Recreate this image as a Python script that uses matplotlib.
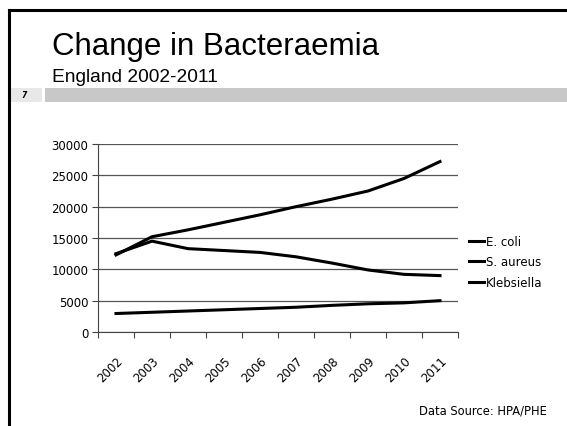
import matplotlib.pyplot as plt
from matplotlib.lines import Line2D
from matplotlib.patches import Rectangle

# data
years = ['2002', '2003', '2004', '2005', '2006', '2007', '2008', '2009', '2010', '2011']
e_coli = [12300, 15200, 16300, 17500, 18700, 20000, 21200, 22500, 24500, 27200]
s_aureus = [12500, 14500, 13300, 13000, 12700, 12000, 11000, 9900, 9200, 9000]
klebsiella = [2950, 3150, 3350, 3550, 3750, 3950, 4250, 4500, 4650, 5000]

W, H = 567, 427
fig = plt.figure(figsize=(W / 100, H / 100), dpi=100)

# slide frame (left and top black rules)
fig.add_artist(Line2D([9 / W, 9 / W], [0, 1 - 11 / H], color='black', lw=2.2))
fig.add_artist(Line2D([9 / W, 1], [1 - 11 / H, 1 - 11 / H], color='black', lw=2.2))

# grey band with slide number
fig.add_artist(Rectangle((10 / W, 1 - 103 / H), 32 / W, 14 / H, color='#e8e8e8', lw=0))
fig.add_artist(Rectangle((45 / W, 1 - 103 / H), (W - 45) / W, 14 / H, color='#c8c8c8', lw=0))
fig.text(24 / W, 1 - 96 / H, '7', fontsize=5.5, fontweight='bold', style='italic',
         ha='center', va='center')

fig.text(52 / W, 1 - 55 / H, 'Change in Bacteraemia', fontsize=22.5,
         family='Liberation Sans', ha='left', va='baseline')
fig.text(52 / W, 1 - 82 / H, 'England 2002-2011', fontsize=13.8,
         family='Liberation Sans', ha='left', va='baseline')
fig.text(547 / W, 1 - 411 / H, 'Data Source: HPA/PHE', fontsize=8.3,
         ha='right', va='center')

ax = fig.add_axes([98 / W, 1 - 333 / H, 360 / W, 188 / H])
x = list(range(len(years)))
ax.plot(x, e_coli, color='black', lw=2.2, label='E. coli')
ax.plot(x, s_aureus, color='black', lw=2.2, label='S. aureus')
ax.plot(x, klebsiella, color='black', lw=2.2, label='Klebsiella')

ax.set_xlim(-0.5, len(years) - 0.5)
ax.set_ylim(0, 30000)
ax.set_yticks(range(0, 30001, 5000))
ax.set_xticks([i - 0.5 for i in range(len(years) + 1)])
ax.set_xticklabels([])
ax.set_xticks(x, minor=True)
ax.set_xticklabels(years, minor=True, rotation=45, ha='right', rotation_mode='anchor')
ax.tick_params(axis='x', which='minor', length=0, pad=16, labelsize=8.5)
ax.tick_params(axis='x', which='major', length=4, color='#444444', direction='out')
ax.tick_params(axis='y', length=4, color='#444444', labelsize=8.5, pad=3)
ax.yaxis.grid(True, color='#555555', lw=0.9)
ax.set_axisbelow(True)
for s in ['top', 'right']:
    ax.spines[s].set_visible(False)
for s in ['left', 'bottom']:
    ax.spines[s].set_color('#444444')

ax.legend(loc='center left', bbox_to_anchor=(469 / W, 1 - 263 / H),
          bbox_transform=fig.transFigure, frameon=False, fontsize=8.5,
          handlelength=1.3, handletextpad=0.1, labelspacing=0.62,
          borderpad=0, borderaxespad=0)

fig.savefig('out.png', dpi=100)
